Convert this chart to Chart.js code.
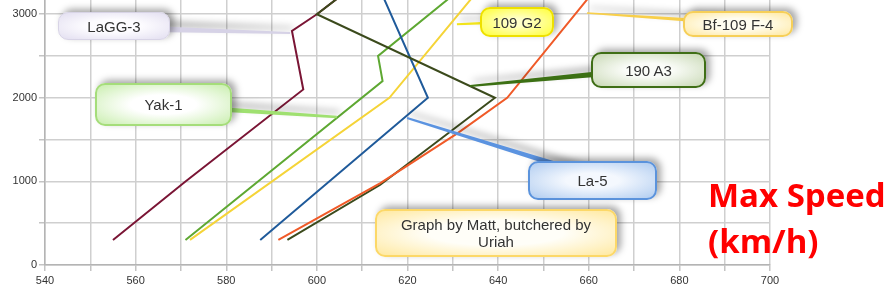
<!DOCTYPE html>
<html><head><meta charset="utf-8">
<script src="https://cdn.jsdelivr.net/npm/chart.js@4.4.1/dist/chart.umd.min.js"></script>
<style>
html,body{margin:0;padding:0;background:#fff;}
#wrap{position:relative;width:889px;height:286px;overflow:hidden;}
canvas{position:absolute;left:0;top:0;}
.co{position:absolute;box-sizing:border-box;border-radius:10px;display:flex;align-items:center;justify-content:center;text-align:center;font-family:"Liberation Sans",Arial,sans-serif;font-size:15px;line-height:17px;color:#333;box-shadow:4px -3px 7px rgba(0,0,0,0.35);}
.title{position:absolute;left:708px;font-family:"Open Sans",sans-serif;font-weight:700;font-size:33px;line-height:33px;color:#ff0000;white-space:nowrap;}
</style></head>
<body><div id="wrap"><canvas id="c" width="889" height="286"></canvas>
<div class="co" style="left:58px;top:12px;width:112px;height:28px;background:radial-gradient(ellipse at center,#fdfcff 35%,#e2def0 100%);border:1.5px solid #d8d4e6;">LaGG-3</div>
<div class="co" style="left:95px;top:83px;width:137px;height:43px;background:radial-gradient(ellipse at center,#ffffff 35%,#c9eeae 100%);border:2px solid #a5dd7a;">Yak-1</div>
<div class="co" style="left:480px;top:7px;width:74px;height:30px;background:radial-gradient(ellipse at center,#ffffc8 20%,#ffff3a 100%);border:2px solid #eee000;">109 G2</div>
<div class="co" style="left:683px;top:11px;width:110px;height:26px;background:radial-gradient(ellipse at center,#fffdf0 35%,#ffe8a0 100%);border:2px solid #f6cf58;">Bf-109 F-4</div>
<div class="co" style="left:591px;top:52px;width:115px;height:36px;background:radial-gradient(ellipse at center,#fafcf8 30%,#c8d8b4 100%);border:2px solid #3f6e16;">190 A3</div>
<div class="co" style="left:528px;top:161px;width:129px;height:39px;background:radial-gradient(ellipse at center,#f4f8fe 30%,#b0ccf0 100%);border:2px solid #5b93dc;">La-5</div>
<div class="co" style="left:375px;top:209px;width:242px;height:48px;background:radial-gradient(ellipse at center,#fffef8 40%,#ffe9a0 100%);border:2px solid #fcd868;">Graph by Matt, butchered by<br>Uriah</div>
<div class="title" style="top:178px;">Max Speed</div>
<div class="title" style="top:224px;">(km/h)</div>
</div>
<script>
// ---- data (speed km/h vs altitude m) ----
const lagg3Speed = [555, 571, 597, 594.5, 600, 604.8];
const lagg3Alt   = [300, 1000, 2100, 2800, 3000, 3200];
const yak1Speed  = [571, 614.5, 613.5, 629.4];
const yak1Alt    = [300, 2200, 2500, 3200];
const g2Speed    = [572, 616, 634.3];
const g2Alt      = [300, 2000, 3200];
const la5Speed   = [587.5, 624.5, 614.7];
const la5Alt     = [300, 2000, 3200];
const f4Speed    = [591.5, 614, 631, 642, 660];
const f4Alt      = [300, 980, 1575, 2000, 3200];
const fw190Speed = [593.5, 614, 639.3, 600, 604.8];
const fw190Alt   = [300, 960, 2000, 3000, 3200];

// ticks (grid every value, label only on the labelled ones)
const speedTicks  = [540,550,560,570,580,590,600,610,620,630,640,650,660,670,680,690,700];
const speedLabels = [540,560,580,600,620,640,660,680,700];
const altTicks    = [0,500,1000,1500,2000,2500,3000];
const altLabels   = [0,1000,2000,3000];
const xMin = 540, xMax = 700, yMin = 0, yMax = 3170;

function pts(xs, ys){ return xs.map((x,i)=>({x:x, y:ys[i]})); }

const series = [
  {label:'Bf-109 F-4', xs:f4Speed, ys:f4Alt, color:'#f05a28'},
  {label:'190 A3', xs:fw190Speed, ys:fw190Alt, color:'#3b4a1c'},
  {label:'La-5', xs:la5Speed, ys:la5Alt, color:'#1f5a9a'},
  {label:'109 G2', xs:g2Speed, ys:g2Alt, color:'#f5d438'},
  {label:'Yak-1', xs:yak1Speed, ys:yak1Alt, color:'#5ea832'},
  {label:'LaGG-3', xs:lagg3Speed, ys:lagg3Alt, color:'#7a1535'}
];

// pointer lines of the callouts: start in page pixels (under the box), target in data units
const pointers = [
  {sx:150, sy:29, tx:594.1, ty:2776, color:'#d6d2e6', w0:6, w1:2},
  {sx:200, sy:108, tx:604.4, ty:1771, color:'#9fe070', w0:5, w1:2.5},
  {sx:510, sy:22, tx:630.9, ty:2880, color:'#f2e41a', w0:3, w1:2},
  {sx:720, sy:22, tx:659.6, ty:3015, color:'#f8cf4a', w0:4, w1:1.5},
  {sx:620, sy:72, tx:633.8, ty:2142, color:'#3c7014', w0:6, w1:2},
  {sx:590, sy:175, tx:619.9, ty:1759, color:'#5b93e0', w0:6, w1:2}
];

const pointerPlugin = {
  id:'pointers',
  afterDatasetsDraw(chart){
    const ctx = chart.ctx, xs = chart.scales.x, ys = chart.scales.y;
    pointers.forEach(p=>{
      const ex = xs.getPixelForValue(p.tx), ey = ys.getPixelForValue(p.ty);
      const dx = ex-p.sx, dy = ey-p.sy, L = Math.hypot(dx,dy);
      const nx = -dy/L, ny = dx/L;
      ctx.save();
      ctx.shadowColor = 'rgba(0,0,0,0.35)';
      ctx.shadowBlur = 7; ctx.shadowOffsetX = 3; ctx.shadowOffsetY = -5;
      ctx.fillStyle = p.color;
      ctx.beginPath();
      ctx.moveTo(p.sx+nx*p.w0/2, p.sy+ny*p.w0/2);
      ctx.lineTo(ex+nx*p.w1/2, ey+ny*p.w1/2);
      ctx.lineTo(ex-nx*p.w1/2, ey-ny*p.w1/2);
      ctx.lineTo(p.sx-nx*p.w0/2, p.sy-ny*p.w0/2);
      ctx.closePath();
      ctx.fill();
      ctx.restore();
    });
  }
};

Chart.defaults.font.family = '"Liberation Sans", Arial, sans-serif';
Chart.defaults.font.size = 11;
Chart.defaults.color = '#333';

new Chart(document.getElementById('c'), {
  type:'scatter',
  data:{datasets: series.map(s=>({
    label:s.label, data:pts(s.xs,s.ys), showLine:true, borderColor:s.color,
    backgroundColor:s.color, borderWidth:2, pointRadius:0, tension:0, fill:false
  }))},
  options:{
    responsive:false, animation:false,
    layout:{padding:{left:0,right:119,top:0,bottom:0}},
    plugins:{legend:{display:false}, tooltip:{enabled:false}},
    scales:{
      x:{type:'linear', min:xMin, max:xMax,
        afterBuildTicks:s=>{ s.ticks = speedTicks.map(v=>({value:v})); },
        ticks:{autoSkip:false, maxRotation:0, padding:3,
          callback:v=> speedLabels.includes(v) ? String(v) : ''},
        grid:{color:'#cfcfcf', lineWidth:1.5, tickLength:6, tickColor:'#c4c4c4'},
        border:{color:'#b4b4b4', width:1.5},
        afterFit:s=>{ s.height = 21; s.paddingLeft = 0; s.paddingRight = 0; }
      },
      y:{type:'linear', min:yMin, max:yMax,
        afterBuildTicks:s=>{ s.ticks = altTicks.map(v=>({value:v})); },
        ticks:{autoSkip:false, padding:2,
          callback:v=> altLabels.includes(v) ? String(v) : ''},
        grid:{color:'#cfcfcf', lineWidth:1.5, tickLength:6, tickColor:'#c4c4c4'},
        border:{color:'#b4b4b4', width:1.5},
        afterFit:s=>{ s.width = 45; s.paddingTop = 0; s.paddingBottom = 0; }
      }
    }
  },
  plugins:[pointerPlugin]
});
</script>
</body></html>
